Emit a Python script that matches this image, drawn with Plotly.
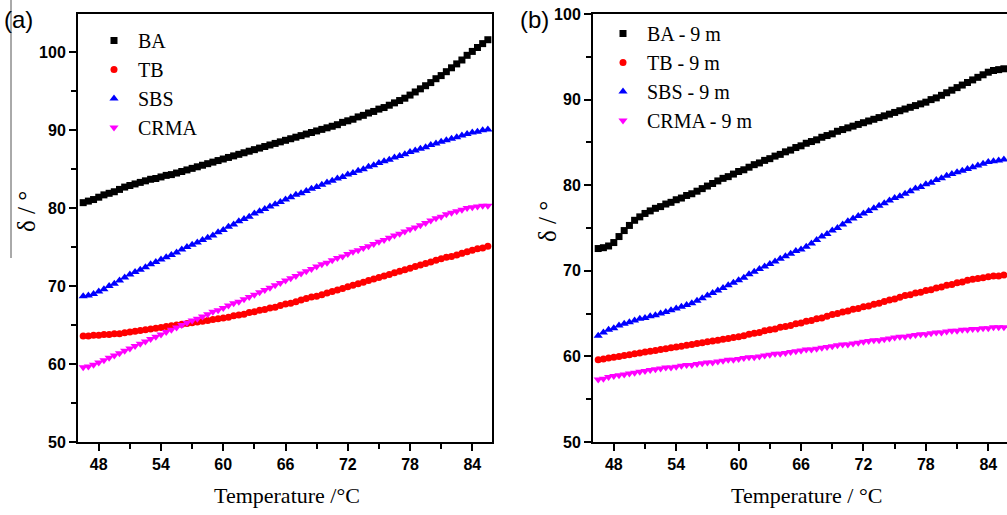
import plotly.graph_objects as go

TEMPS = [46.5, 47.0, 47.5, 48.0, 48.5, 49.0, 49.5, 50.0, 50.5, 51.0, 51.5, 52.0, 52.5, 53.0, 53.5,
         54.0, 54.5, 55.0, 55.5, 56.0, 56.5, 57.0, 57.5, 58.0, 58.5, 59.0, 59.5, 60.0, 60.5, 61.0,
         61.5, 62.0, 62.5, 63.0, 63.5, 64.0, 64.5, 65.0, 65.5, 66.0, 66.5, 67.0, 67.5, 68.0, 68.5,
         69.0, 69.5, 70.0, 70.5, 71.0, 71.5, 72.0, 72.5, 73.0, 73.5, 74.0, 74.5, 75.0, 75.5, 76.0,
         76.5, 77.0, 77.5, 78.0, 78.5, 79.0, 79.5, 80.0, 80.5, 81.0, 81.5, 82.0, 82.5, 83.0, 83.5,
         84.0, 84.5, 85.0, 85.5]

# Panel (a)
BA = [80.7, 80.9, 81.1, 81.4, 81.7, 81.9, 82.1, 82.4, 82.7, 82.9, 83.1, 83.3, 83.5, 83.7, 83.8,
      84.0, 84.2, 84.3, 84.5, 84.7, 84.9, 85.1, 85.3, 85.5, 85.7, 85.9, 86.1, 86.3, 86.5, 86.7,
      86.9, 87.1, 87.3, 87.5, 87.7, 87.9, 88.1, 88.3, 88.5, 88.7, 88.9, 89.1, 89.3, 89.5, 89.7,
      89.9, 90.1, 90.3, 90.5, 90.7, 91.0, 91.2, 91.4, 91.7, 91.9, 92.2, 92.4, 92.7, 92.9, 93.2,
      93.5, 93.8, 94.1, 94.5, 94.9, 95.3, 95.7, 96.1, 96.6, 97.0, 97.5, 98.0, 98.5, 99.0, 99.6,
      100.1, 100.6, 101.1, 101.6]
TB = [63.6, 63.6, 63.7, 63.7, 63.8, 63.8, 63.9, 63.9, 64.0, 64.1, 64.2, 64.3, 64.4, 64.5, 64.6,
      64.7, 64.8, 64.9, 65.0, 65.1, 65.2, 65.3, 65.4, 65.5, 65.6, 65.7, 65.8, 65.9, 66.0, 66.2,
      66.3, 66.4, 66.6, 66.7, 66.9, 67.0, 67.2, 67.3, 67.5, 67.7, 67.8, 68.0, 68.2, 68.4, 68.6,
      68.7, 68.9, 69.1, 69.3, 69.5, 69.7, 69.9, 70.1, 70.3, 70.5, 70.7, 70.9, 71.1, 71.3, 71.5,
      71.7, 71.9, 72.1, 72.3, 72.5, 72.7, 72.9, 73.1, 73.3, 73.5, 73.7, 73.8, 74.0, 74.2, 74.4,
      74.6, 74.8, 74.9, 75.1]
SBS = [68.7, 68.8, 69.0, 69.3, 69.6, 70.0, 70.3, 70.7, 71.1, 71.5, 71.8, 72.1, 72.4, 72.8, 73.1,
       73.4, 73.7, 74.0, 74.3, 74.7, 75.0, 75.3, 75.6, 75.9, 76.2, 76.5, 76.9, 77.2, 77.6, 77.9,
       78.3, 78.6, 78.9, 79.3, 79.6, 79.9, 80.2, 80.5, 80.8, 81.1, 81.4, 81.7, 81.9, 82.2, 82.5,
       82.7, 83.0, 83.3, 83.5, 83.8, 84.0, 84.3, 84.5, 84.8, 85.0, 85.3, 85.5, 85.8, 86.0, 86.2,
       86.5, 86.7, 86.9, 87.2, 87.4, 87.6, 87.8, 88.1, 88.3, 88.5, 88.7, 88.9, 89.1, 89.3, 89.5,
       89.7, 89.8, 90.0, 90.1]
CRMA = [59.6, 59.7, 59.9, 60.2, 60.5, 60.8, 61.1, 61.4, 61.7, 62.0, 62.3, 62.6, 62.9, 63.2, 63.5,
        63.8, 64.1, 64.4, 64.7, 65.0, 65.3, 65.6, 65.8, 66.1, 66.4, 66.7, 66.9, 67.2, 67.5, 67.8,
        68.0, 68.3, 68.6, 68.9, 69.2, 69.5, 69.8, 70.1, 70.4, 70.7, 71.0, 71.3, 71.6, 71.9, 72.2,
        72.5, 72.8, 73.0, 73.3, 73.6, 73.8, 74.1, 74.4, 74.6, 74.9, 75.1, 75.4, 75.7, 75.9, 76.2,
        76.5, 76.7, 77.0, 77.3, 77.5, 77.8, 78.1, 78.4, 78.7, 78.9, 79.2, 79.4, 79.6, 79.8, 80.0,
        80.1, 80.2, 80.3, 80.3]

# Panel (b) - 9 m
BA_9M = [72.6, 72.7, 72.9, 73.3, 74.0, 74.7, 75.3, 75.9, 76.3, 76.7, 77.0, 77.3, 77.5, 77.8, 78.0,
         78.3, 78.5, 78.8, 79.0, 79.3, 79.6, 79.9, 80.2, 80.5, 80.8, 81.0, 81.3, 81.6, 81.8, 82.1,
         82.4, 82.6, 82.9, 83.1, 83.4, 83.6, 83.9, 84.1, 84.4, 84.6, 84.9, 85.1, 85.3, 85.6, 85.8,
         86.0, 86.3, 86.5, 86.7, 86.9, 87.1, 87.3, 87.5, 87.7, 87.9, 88.1, 88.3, 88.5, 88.7, 88.9,
         89.1, 89.3, 89.5, 89.7, 90.0, 90.2, 90.5, 90.8, 91.1, 91.4, 91.7, 92.0, 92.3, 92.6, 92.9,
         93.2, 93.4, 93.5, 93.6]
TB_9M = [59.6, 59.7, 59.8, 59.9, 60.0, 60.1, 60.2, 60.3, 60.4, 60.5, 60.6, 60.7, 60.8, 60.9, 61.0,
         61.1, 61.2, 61.3, 61.4, 61.5, 61.6, 61.7, 61.8, 61.9, 62.0, 62.1, 62.2, 62.3, 62.4, 62.6,
         62.7, 62.8, 63.0, 63.1, 63.2, 63.4, 63.5, 63.6, 63.8, 63.9, 64.1, 64.2, 64.4, 64.5, 64.7,
         64.9, 65.0, 65.2, 65.3, 65.5, 65.6, 65.8, 65.9, 66.1, 66.2, 66.4, 66.6, 66.7, 66.9, 67.1,
         67.2, 67.4, 67.5, 67.7, 67.8, 68.0, 68.1, 68.3, 68.4, 68.6, 68.7, 68.9, 69.0, 69.1, 69.2,
         69.3, 69.4, 69.4, 69.5]
SBS_9M = [62.4, 62.8, 63.1, 63.3, 63.6, 63.8, 64.0, 64.2, 64.4, 64.5, 64.7, 64.8, 65.0, 65.2, 65.4,
          65.6, 65.8, 66.0, 66.2, 66.5, 66.8, 67.1, 67.4, 67.7, 68.0, 68.3, 68.6, 68.9, 69.2, 69.6,
          69.9, 70.2, 70.5, 70.8, 71.1, 71.4, 71.7, 72.0, 72.3, 72.5, 72.8, 73.2, 73.6, 74.0, 74.3,
          74.7, 75.0, 75.4, 75.8, 76.1, 76.4, 76.7, 77.0, 77.3, 77.6, 77.9, 78.2, 78.5, 78.7, 79.0,
          79.3, 79.6, 79.8, 80.1, 80.3, 80.6, 80.8, 81.1, 81.3, 81.5, 81.7, 81.9, 82.1, 82.3, 82.5,
          82.7, 82.8, 82.9, 83.0]
CRMA_9M = [57.3, 57.4, 57.6, 57.7, 57.8, 57.9, 58.0, 58.1, 58.2, 58.3, 58.4, 58.5, 58.6, 58.7, 58.7,
           58.8, 58.9, 59.0, 59.0, 59.1, 59.2, 59.3, 59.3, 59.4, 59.5, 59.6, 59.6, 59.7, 59.8, 59.9,
           59.9, 60.0, 60.1, 60.2, 60.3, 60.3, 60.4, 60.5, 60.6, 60.7, 60.8, 60.8, 60.9, 61.0, 61.1,
           61.2, 61.3, 61.4, 61.4, 61.5, 61.6, 61.7, 61.8, 61.9, 61.9, 62.0, 62.1, 62.2, 62.3, 62.3,
           62.4, 62.5, 62.6, 62.6, 62.7, 62.8, 62.8, 62.9, 63.0, 63.0, 63.1, 63.1, 63.2, 63.2, 63.3,
           63.3, 63.4, 63.4, 63.4]

X_TICKS = [48, 54, 60, 66, 72, 78, 84]
LEFT_NAMES = ["BA", "TB", "SBS", "CRMA"]
RIGHT_NAMES = ["BA - 9 m", "TB - 9 m", "SBS - 9 m", "CRMA - 9 m"]
COLORS = ["#000000", "#ff0000", "#0000ff", "#ff00ff"]
SYMBOLS = ["square", "circle", "triangle-up", "triangle-down"]
SIZES = [7, 7, 8, 8]

SERIF = "Liberation Serif, Times New Roman, serif"
SANS = "Liberation Sans Narrow, Arial Narrow, Liberation Sans, Arial, sans-serif"

fig = go.Figure()

for name, ys, c, s, sz in zip(LEFT_NAMES, [BA, TB, SBS, CRMA], COLORS, SYMBOLS, SIZES):
    fig.add_trace(go.Scatter(x=TEMPS, y=ys, mode="markers", name=name,
                             marker=dict(color=c, symbol=s, size=sz, line=dict(width=0)),
                             xaxis="x", yaxis="y", legend="legend"))
for name, ys, c, s, sz in zip(RIGHT_NAMES, [BA_9M, TB_9M, SBS_9M, CRMA_9M], COLORS, SYMBOLS, SIZES):
    fig.add_trace(go.Scatter(x=TEMPS, y=ys, mode="markers", name=name,
                             marker=dict(color=c, symbol=s, size=sz, line=dict(width=0)),
                             xaxis="x2", yaxis="y2", legend="legend2"))

W, H = 1007, 515
tickfont = dict(family=SANS, size=16, color="black", weight="bold")

def xaxis(domain, anchor, rng):
    return dict(domain=domain, anchor=anchor, range=rng, tickmode="array", tickvals=X_TICKS,
                ticks="outside", ticklen=7, tickwidth=1.5, tickcolor="black",
                minor=dict(tickvals=[51, 57, 63, 69, 75, 81], ticks="outside", ticklen=5,
                           tickwidth=1.5, tickcolor="black"),
                showline=True, linecolor="black", linewidth=2, mirror=True, automargin=False,
                showgrid=False, zeroline=False, tickfont=tickfont)

def yaxis(domain, anchor, rng, tickvals, minorvals, mirror):
    return dict(domain=domain, anchor=anchor, range=rng, tickmode="array", tickvals=tickvals,
                ticks="outside", ticklen=7, tickwidth=1.5, tickcolor="black",
                minor=dict(tickvals=minorvals, ticks="outside", ticklen=5,
                           tickwidth=1.5, tickcolor="black"),
                showline=True, linecolor="black", linewidth=2, mirror=mirror, automargin=False,
                showgrid=False, zeroline=False, tickfont=tickfont)

ydom = [1 - 442 / H, 1 - 14 / H]
fig.update_layout(
    width=W, height=H,
    margin=dict(l=0, r=0, t=0, b=0, autoexpand=False),
    paper_bgcolor="white", plot_bgcolor="white",
    showlegend=True,
    xaxis=xaxis([78 / W, 492 / W], "y", [46, 85.9]),
    yaxis=yaxis(ydom, "x", [50, 104.9], [50, 60, 70, 80, 90, 100], [55, 65, 75, 85, 95], True),
    xaxis2=xaxis([593 / W, 1.0], "y2", [46, 85.8]),
    yaxis2=yaxis(ydom, "x2", [50, 100], [50, 60, 70, 80, 90, 100], [55, 65, 75, 85, 95], False),
    legend=dict(x=90 / W, y=1 - 21 / H, xanchor="left", yanchor="top", bgcolor="rgba(0,0,0,0)",
                font=dict(family=SERIF, size=20, color="black"), tracegroupgap=0, itemwidth=38),
    legend2=dict(x=599 / W, y=1 - 14 / H, xanchor="left", yanchor="top", bgcolor="rgba(0,0,0,0)",
                 font=dict(family=SERIF, size=20, color="black"), tracegroupgap=0, itemwidth=38),
)

annos = [
    dict(text="Temperature /°C", x=287 / W, y=1 - 495 / H, size=22),
    dict(text="Temperature / °C", x=806 / W, y=1 - 495 / H, size=22),
    dict(text="δ / °", x=26 / W, y=1 - 212 / H, textangle=-90, size=25),
    dict(text="δ / °", x=547 / W, y=1 - 222 / H, textangle=-90, size=25),
]
for a in annos:
    sz = a.pop("size")
    fig.add_annotation(xref="paper", yref="paper", showarrow=False, xanchor="center",
                       yanchor="middle", font=dict(family=SERIF, size=sz, color="black"), **a)
fig.add_annotation(text="(a)", xref="paper", yref="paper", x=2 / W, y=1 - 20 / H, showarrow=False,
                   xanchor="left", yanchor="middle",
                   font=dict(family="Liberation Sans, Arial, sans-serif", size=24, color="black"))
fig.add_annotation(text="(b)", xref="paper", yref="paper", x=518 / W, y=1 - 20 / H, showarrow=False,
                   xanchor="left", yanchor="middle",
                   font=dict(family="Liberation Sans, Arial, sans-serif", size=24, color="black"))
fig.add_shape(type="line", xref="paper", yref="paper", x0=11 / W, x1=11 / W, y0=1, y1=1 - 258 / H,
              line=dict(color="#555555", width=1))

fig.write_html("out.html", config={"displayModeBar": False},
               post_script="document.body.style.margin='0px';document.body.style.overflow='hidden';")
